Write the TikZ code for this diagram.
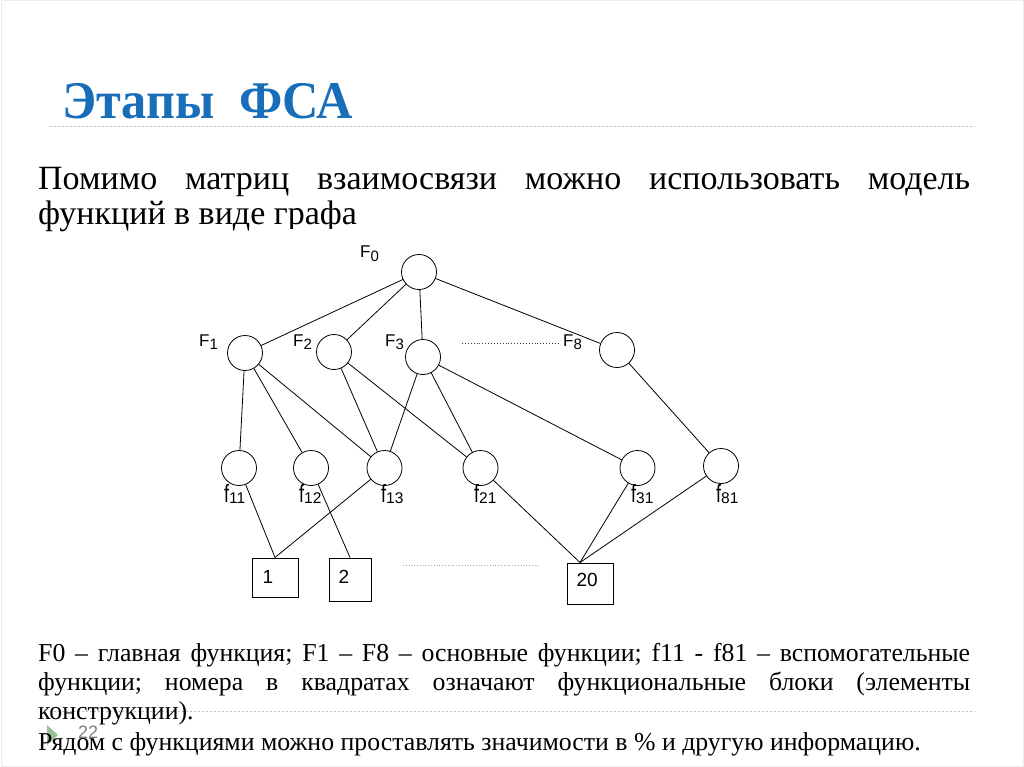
\documentclass[tikz,border=0pt]{standalone}
\usepackage{fontspec}
\setmainfont{Liberation Serif}
\newfontfamily\arialf{Liberation Sans}
\usetikzlibrary{calc}
\definecolor{titleblue}{RGB}{24,110,184}
\definecolor{dotgreen}{RGB}{170,205,170}
\definecolor{trigreen}{RGB}{150,195,150}
\newcommand{\flab}[1]{\scalebox{0.72}[1]{\fontsize{25}{27}\selectfont f}\raisebox{-1pt}{\fontsize{15.5}{17}\selectfont #1}}
\newcommand{\Flab}[1]{{\fontsize{17}{19}\selectfont F}\raisebox{-3pt}{\fontsize{15}{17}\selectfont #1}}
\tikzset{
  fn/.style={draw, circle, minimum size=35pt, inner sep=0pt, line width=0.8pt},
  blk/.style={draw, rectangle, line width=1pt, font=\arialf\fontsize{19}{21}\selectfont},
  lbl/.style={font=\arialf, inner sep=0pt},
  edge/.style={line width=0.8pt},
  dotsA/.style={dotted, line width=0.9pt, black!75},
  dotsB/.style={dotted, line width=0.8pt, gray!70}
}
\begin{document}
\begin{tikzpicture}[x=1pt,y=-1pt]
\useasboundingbox (0,0) rectangle (1024,767);
\fill[white] (0,0) rectangle (1024,767);
\draw[gray!15, line width=1pt] (1,1) rectangle (1023,766);
% title
\node[anchor=base west, inner sep=0pt, text=titleblue] (title) at (62,119)
  {\scalebox{0.95}[1]{\fontsize{53}{56}\selectfont\bfseries Этапы\ \ ФСА}};
\draw[dotgreen, dashed, dash pattern=on 2pt off 2pt, line width=1pt] (50,127) -- (975,127);
% body text
\node[anchor=base west, inner sep=0pt] (body) at (38,190)
  {\parbox[t]{932pt}{\fontsize{34}{35}\selectfont\frenchspacing Помимо матриц взаимосвязи можно использовать модель\linebreak функций в виде графа}};
% white cover (image overlay)
\fill[white] (250,229) rectangle (770,612);
% nodes
\node[fn] (F0) at (419,272) {};
\node[fn] (F1) at (245,353) {};
\node[fn] (F2) at (334,352) {};
\node[fn] (F3) at (423,357) {};
\node[fn] (F8) at (617,350) {};
\node[fn] (f11) at (239,468) {};
\node[fn] (f12) at (311,468) {};
\node[fn] (f13) at (384.5,468) {};
\node[fn] (f21) at (480.5,468) {};
\node[fn] (f31) at (637.5,468) {};
\node[fn] (f81) at (721,466) {};
\node[blk, minimum width=46pt, minimum height=39pt] (b1) at (275,577.5) {};
\node[blk, minimum width=42pt, minimum height=43pt] (b2) at (350,579.5) {};
\node[blk, minimum width=46pt, minimum height=41pt] (b20) at (590,583.5) {};
\node[blk, draw=none, anchor=base west, inner sep=0pt] (t1) at (262,583) {1};
\node[blk, draw=none, anchor=base west, inner sep=0pt] (t2) at (338,583) {2};
\node[blk, draw=none, anchor=base west, inner sep=0pt] (t20) at (576,586) {20};
% labels
\node[lbl, anchor=base west] (lF0) at (360,258) {\Flab{0}};
\node[lbl, anchor=base west] (lF1) at (199,346) {\Flab{1}};
\node[lbl, anchor=base west] (lF2) at (293,346) {\Flab{2}};
\node[lbl, anchor=base west] (lF3) at (385,346) {\Flab{3}};
\node[lbl, anchor=base west] (lF8) at (563,346) {\Flab{8}};
\node[lbl, anchor=base west] (l11) at (224,502) {\flab{11}};
\node[lbl, anchor=base west] (l12) at (299,502) {\flab{12}};
\node[lbl, anchor=base west] (l13) at (381,502) {\flab{13}};
\node[lbl, anchor=base west] (l21) at (474,502) {\flab{21}};
\node[lbl, anchor=base west] (l31) at (631,502) {\flab{31}};
\node[lbl, anchor=base west] (l81) at (716,502) {\flab{81}};
\coordinate (d1a) at (462,343); \coordinate (d1b) at (558,343);
\coordinate (d2a) at (403,565); \coordinate (d2b) at (538,565);
\draw[dotsA] (d1a) -- (d1b);
\draw[dotsB] (d2a) -- (d2b);
% edges
\draw[edge] (F0) -- (F1);
\draw[edge] (F0) -- (F2);
\draw[edge] (F0) -- (F3);
\draw[edge] (F0) -- (F8);
\draw[edge] (F1) -- (f11);
\draw[edge] (F1) -- (f12);
\draw[edge] (F1) -- (f13);
\draw[edge] (F2) -- (f13);
\draw[edge] (F2) -- (f21);
\draw[edge] (F3) -- (f13);
\draw[edge] (F3) -- (f21);
\draw[edge] (F3) -- (f31);
\draw[edge] (F8) -- (f81);
\draw[edge] (f11) -- (b1.north);
\draw[edge] (f13) -- (b1.north);
\draw[edge] (f12) -- (b2.north);
\draw[edge] (f21) -- ([xshift=-10pt]b20.north);
\draw[edge] (f31) -- ([xshift=-10pt]b20.north);
\draw[edge] (f81) -- ([xshift=-10pt]b20.north);
% bottom
\draw[dotgreen, dashed, dash pattern=on 2pt off 2pt, line width=1pt] (50,711) -- (975,711);
\node[anchor=base west, inner sep=0pt] (note) at (38,661)
  {\parbox[t]{932pt}{\fontsize{25.8}{29}\selectfont\frenchspacing F0 – главная функция; F1 – F8 – основные функции; f11 - f81 – вспомогательные функции; номера в квадратах означают функциональные блоки (элементы конструкции).}};
\fill[trigreen] (47,725) -- (58,735) -- (47,745) -- cycle;
\node[anchor=base west, inner sep=0pt, text=gray, font=\arialf\fontsize{18}{20}\selectfont] (pg) at (78,738) {22};
\node[anchor=base west, inner sep=0pt, font=\fontsize{25.8}{29}\selectfont] (note2) at (38,750) {Рядом с функциями можно проставлять значимости в \% и другую информацию.};
\end{tikzpicture}
\end{document}
